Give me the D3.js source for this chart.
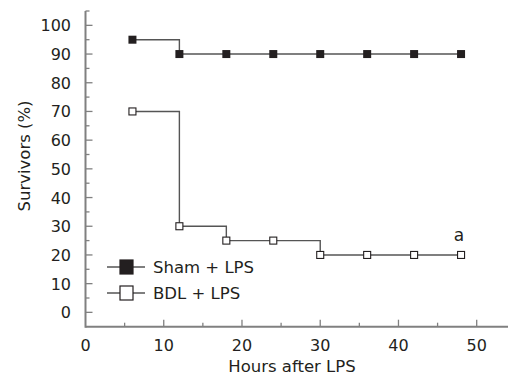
<!DOCTYPE html>
<html>
<head>
<meta charset="utf-8">
<script src="https://cdn.jsdelivr.net/npm/d3@7"></script>
<style>
  body { margin: 0; background: #fff; }
  text { font-family: "DejaVu Sans", sans-serif; fill: #231f20; }
</style>
</head>
<body>
<div id="chart"></div>
<script>
// survival data, hours after LPS vs % survivors
const hours = [6, 12, 18, 24, 30, 36, 42, 48];
const shamLPS = [95, 90, 90, 90, 90, 90, 90, 90];
const bdlLPS = [70, 30, 25, 25, 20, 20, 20, 20];
const seriesNames = ["Sham + LPS", "BDL + LPS"];
const xTicks = [0, 10, 20, 30, 40, 50];
const yTicks = [0, 10, 20, 30, 40, 50, 60, 70, 80, 90, 100];

const width = 508, height = 377;
const svg = d3.select("#chart").append("svg")
  .attr("width", width).attr("height", height);

const x = d3.scaleLinear().domain([0, 54]).range([85.5, 508]);
const y = d3.scaleLinear().domain([-5, 105]).range([326.7, 11]);

const axisCol = "#808080";
const ink = "#231f20";

// axes lines
svg.append("line").attr("x1", x(0)).attr("x2", width)
  .attr("y1", y(-5)).attr("y2", y(-5))
  .attr("stroke", axisCol).attr("stroke-width", 2);
svg.append("line").attr("x1", x(0)).attr("x2", x(0))
  .attr("y1", y(-5) + 1).attr("y2", y(105))
  .attr("stroke", axisCol).attr("stroke-width", 2);

// y ticks (inward) + minor
d3.range(0, 106, 5).forEach(v => {
  const major = v % 10 === 0;
  svg.append("line").attr("x1", x(0)).attr("x2", x(0) + (major ? 7 : 4))
    .attr("y1", y(v)).attr("y2", y(v))
    .attr("stroke", axisCol).attr("stroke-width", 1.3);
});
svg.selectAll(".ylab").data(yTicks).enter().append("text")
  .attr("x", 71).attr("y", d => y(d) + 6)
  .attr("text-anchor", "end").attr("font-size", 16)
  .text(d => d);

// x ticks (inward) + minor
d3.range(5, 55, 5).forEach(v => {
  const major = v % 10 === 0;
  svg.append("line").attr("x1", x(v)).attr("x2", x(v))
    .attr("y1", y(-5)).attr("y2", y(-5) - (major ? 7 : 4))
    .attr("stroke", axisCol).attr("stroke-width", 1.3);
});
svg.selectAll(".xlab").data(xTicks).enter().append("text")
  .attr("x", d => x(d)).attr("y", 351)
  .attr("text-anchor", "middle").attr("font-size", 16)
  .text(d => d);

// axis titles
svg.append("text").attr("x", 292).attr("y", 372)
  .attr("text-anchor", "middle").attr("font-size", 16.5)
  .text("Hours after LPS");
svg.append("text")
  .attr("transform", `translate(30,${156}) rotate(-90)`)
  .attr("text-anchor", "middle").attr("font-size", 16.5)
  .text("Survivors (%)");

// step lines
const line = d3.line().x(d => x(d[0])).y(d => y(d[1])).curve(d3.curveStepAfter);
const shamPts = hours.map((h, i) => [h, shamLPS[i]]);
const bdlPts = hours.map((h, i) => [h, bdlLPS[i]]);

[shamPts, bdlPts].forEach(pts => {
  svg.append("path").attr("d", line(pts))
    .attr("fill", "none").attr("stroke", "#555").attr("stroke-width", 1.4);
});

svg.selectAll(".sham").data(shamPts).enter().append("rect")
  .attr("x", d => x(d[0]) - 4).attr("y", d => y(d[1]) - 4)
  .attr("width", 8).attr("height", 8).attr("fill", ink);

svg.selectAll(".bdl").data(bdlPts).enter().append("rect")
  .attr("x", d => x(d[0]) - 3.5).attr("y", d => y(d[1]) - 3.5)
  .attr("width", 7).attr("height", 7)
  .attr("fill", "#fff").attr("stroke", ink).attr("stroke-width", 1.1);

// significance mark
svg.append("text").attr("x", x(48) - 2).attr("y", y(20) - 14)
  .attr("text-anchor", "middle").attr("font-size", 17).text("a");

// legend
const legY = [267, 293];
seriesNames.forEach((name, i) => {
  const g = svg.append("g").attr("transform", `translate(0,${legY[i]})`);
  g.append("line").attr("x1", 107).attr("x2", 145).attr("y1", 0).attr("y2", 0)
    .attr("stroke", "#555").attr("stroke-width", 1.4);
  g.append("rect").attr("x", 120).attr("y", -7).attr("width", 13).attr("height", 14)
    .attr("fill", i === 0 ? ink : "#fff")
    .attr("stroke", ink).attr("stroke-width", 1.2);
  g.append("text").attr("x", 153).attr("y", 6).attr("font-size", 16.5).text(name);
});
</script>
</body>
</html>
